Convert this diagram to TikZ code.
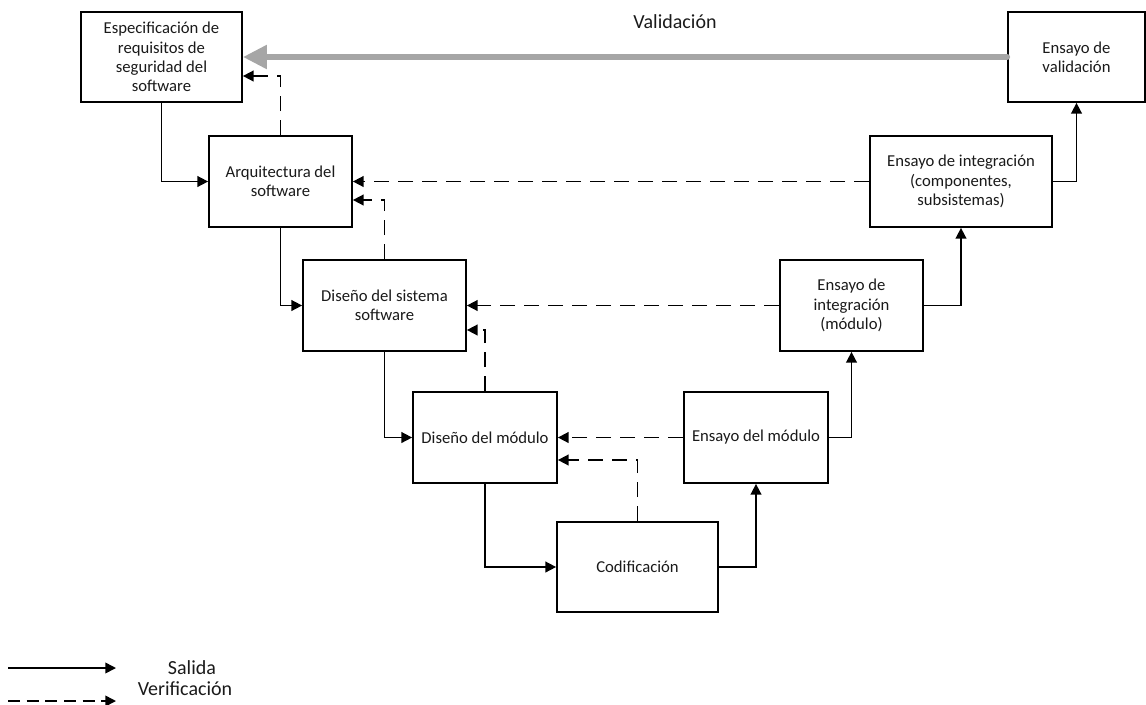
\documentclass[tikz,border=0pt]{standalone}
\usepackage{fontspec}
\setmainfont{Carlito}
\usepackage{tikz}
\usetikzlibrary{positioning, arrows.meta, calc}
\usepackage{xcolor}
\definecolor{linegray}{HTML}{A6A6A6}
\definecolor{darktext}{HTML}{1A1A1A}

\begin{document}
\begin{tikzpicture}[
        x=0.75pt, y=-0.75pt,
        box/.style={rectangle, draw=black, fill=white, line width=1.3pt,
          inner sep=2pt, align=center,
          font=\fontsize{12.5}{14.5}\selectfont, text=darktext},
        salida/.style={-{Triangle[length=8pt, width=8pt]}, line width=1.2pt},
        verif/.style={-{Triangle[length=8pt, width=8pt]}, line width=1.2pt,
          dash pattern=on 11pt off 7pt},
        valid/.style={-{Triangle[length=18pt, width=17pt]}, line width=4.5pt,
          color=linegray, line cap=round},
        lbl/.style={font=\fontsize{15}{17}\selectfont, text=darktext},
      ]
        \useasboundingbox (0,0) rectangle (1146,704);

        % lado izquierdo de la V
        \node[box, minimum width=120.75pt, minimum height=67.5pt] (spec) at (161.5,57)
          {Especificación de\\requisitos de\\seguridad del\\software};
        \node[box, minimum width=107.25pt, minimum height=68.25pt] (arq) at (280.5,181.5)
          {Arquitectura del\\software};
        \node[box, minimum width=122.25pt, minimum height=68.25pt] (dsis) at (384.5,305.5)
          {Diseño del sistema\\software};
        \node[box, minimum width=108pt, minimum height=68.25pt] (dmod) at (485,437.5)
          {Diseño del módulo};
        \node[box, minimum width=120.75pt, minimum height=67.5pt] (cod) at (637.5,567)
          {Codificación};

        % lado derecho de la V
        \node[box, minimum width=108pt, minimum height=68.25pt] (emod) at (756,437.5)
          {Ensayo del módulo};
        \node[box, minimum width=107.25pt, minimum height=68.25pt] (eintm) at (851.5,305.5)
          {Ensayo de\\integración\\(módulo)};
        \node[box, minimum width=136.5pt, minimum height=68.25pt] (eintc) at (961,181.5)
          {Ensayo de integración\\(componentes,\\subsistemas)};
        \node[box, minimum width=102.75pt, minimum height=67.5pt] (eval) at (1076.5,57)
          {Ensayo de\\validación};

        \node[lbl] (tval) at (675,22) {Validación};

        % salida
        \draw[salida] (spec.south) |- (arq.west);
        \draw[salida] (arq.south)  |- (dsis.west);
        \draw[salida] (dsis.south) |- (dmod.west);
        \draw[salida] (dmod.south) |- (cod.west);
        \draw[salida] (cod.east)   -| (emod.south);
        \draw[salida] (emod.east)  -| (eintm.south);
        \draw[salida] (eintm.east) -| (eintc.south);
        \draw[salida] (eintc.east) -| (eval.south);

        % verificacion
        \draw[verif] (eintc.west) -- (arq.east);
        \draw[verif] (eintm.west) -- (dsis.east);
        \draw[verif] (emod.west)  -- (dmod.east);
        \draw[verif] (arq.north)  |- ($(spec.east)+(0,19)$);
        \draw[verif] (dsis.north) |- ($(arq.east)+(0,18.5)$);
        \draw[verif] (dmod.north) |- ($(dsis.east)+(0,24.5)$);
        \draw[verif] (cod.north)  |- ($(dmod.east)+(0,22.5)$);

        % validacion
        \draw[valid] (eval.west) -- (spec.east);

        % leyenda
        \coordinate (ls1) at (8,668);
        \coordinate (ls2) at (116,668);
        \coordinate (lv1) at (8,701);
        \coordinate (lv2) at (116,701);
        \draw[salida] (ls1) -- (ls2);
        \draw[verif, dash pattern=on 9pt off 5pt] (lv1) -- (lv2);
        \node[lbl] (tsal) at (192,668) {Salida};
        \node[lbl] (tver) at (185,689) {Verificación};
      \end{tikzpicture}
\end{document}
